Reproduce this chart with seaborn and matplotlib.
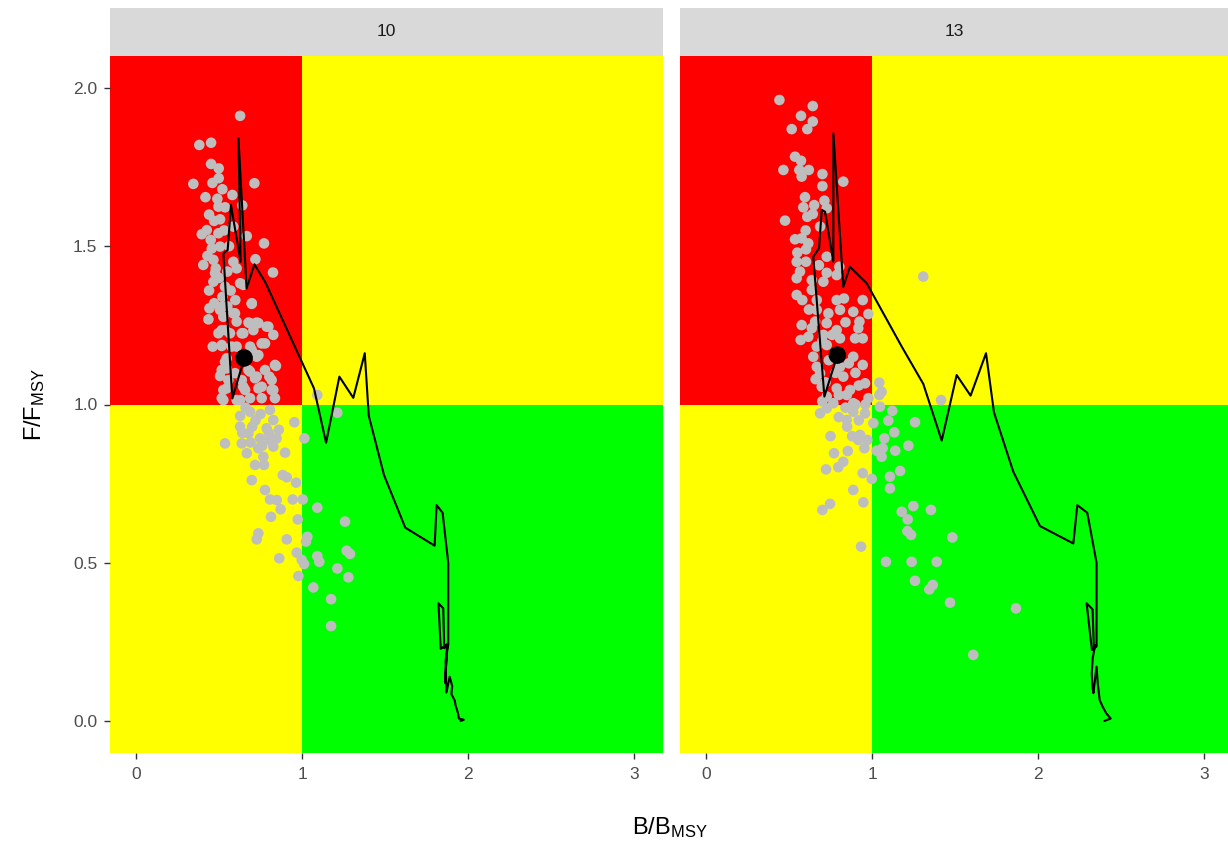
import matplotlib
matplotlib.use("Agg")
import matplotlib.pyplot as plt
from matplotlib.patches import Rectangle
import numpy as np
import pandas as pd
import seaborn as sns

# ---------------- data ----------------
facets = ["10", "13"]

# simulated points (B/BMSY, F/FMSY) panel "10"
sim10_b = [0.627,0.381,0.452,0.452,0.498,0.498,0.345,0.713,0.418,0.580,0.640,0.496,0.536,0.506,0.426,0.396,0.496,0.667,0.771,0.586,
           0.456,0.506,0.719,0.405,0.466,0.586,0.606,0.825,0.476,0.466,0.627,0.536,0.598,0.697,0.442,0.506,0.436,0.526,0.586,0.606,
           0.677,0.727,0.787,0.516,0.566,0.646,0.707,0.827,0.462,0.516,0.576,0.687,0.777,0.546,0.727,0.843,0.506,0.546,0.687,0.727,
           0.803,0.546,0.646,0.757,0.827,0.526,0.606,0.687,0.757,1.092,1.213,1.014,
           0.536,0.637,0.627,0.687,0.807,0.627,0.677,0.787,0.827,0.954,0.667,0.747,0.807,0.847,0.737,0.827,0.898,0.767,0.717,0.771,
           0.697,0.884,0.908,0.964,0.777,0.807,0.848,0.944,1.004,1.092,0.871,0.813,0.974,1.259,0.737,0.727,0.908,1.032,1.024,0.863,
           0.968,0.998,1.012,1.092,1.104,1.269,1.289,1.213,1.279,0.978,1.068,1.175,1.175,0.526,0.817,
           0.516,0.596,0.697,0.687,0.737,0.797,0.496,0.536,0.637,0.757,0.516,0.606,0.697,0.536,0.737,0.837,0.516,0.596,0.677,0.777,
           0.556,0.637,0.717,0.817,0.657,0.737,0.516,0.627,0.837,0.646,0.44,0.47,0.45,0.43,0.48,0.50,0.44,0.52,0.47,0.55,
           0.57,0.55,0.53,0.56,0.49,0.52,0.46,
           0.66,0.72,0.75,0.70,0.64,0.80,0.76,0.86,0.69]
sim10_f = [1.912,1.820,1.827,1.760,1.746,1.715,1.697,1.699,1.655,1.662,1.629,1.625,1.623,1.585,1.551,1.538,1.541,1.532,1.509,1.562,
           1.493,1.499,1.459,1.441,1.457,1.451,1.430,1.417,1.415,1.388,1.383,1.372,1.330,1.318,1.304,1.299,1.269,1.277,1.288,1.262,
           1.259,1.259,1.246,1.235,1.225,1.225,1.235,1.220,1.183,1.185,1.183,1.183,1.193,1.146,1.151,1.122,1.090,1.114,1.104,1.088,
           1.088,1.051,1.056,1.056,1.046,1.014,1.014,1.020,1.020,1.030,0.974,0.893,
           0.877,0.877,0.964,0.977,0.983,0.930,0.909,0.925,0.951,0.944,0.846,0.893,0.888,0.893,0.862,0.867,0.848,0.835,0.809,0.809,
           0.761,0.777,0.770,0.753,0.730,0.700,0.698,0.700,0.700,0.674,0.669,0.645,0.637,0.630,0.593,0.574,0.574,0.582,0.567,0.514,
           0.532,0.509,0.496,0.521,0.503,0.538,0.528,0.482,0.454,0.458,0.422,0.385,0.300,1.046,1.046,
           1.309,1.288,1.320,1.257,1.257,1.246,1.225,1.235,1.225,1.193,1.188,1.183,1.172,1.135,1.156,1.125,1.109,1.099,1.109,1.109,
           1.077,1.077,1.083,1.077,1.046,1.051,1.020,1.014,1.020,1.378,1.60,1.58,1.52,1.47,1.43,1.40,1.36,1.34,1.32,1.31,
           1.36,1.42,1.55,1.50,1.65,1.68,1.70,
           0.99,0.95,0.97,0.93,0.91,0.91,0.87,0.92,0.88]

# simulated points panel "13"
sim13_b = [0.442,0.643,0.572,0.643,0.516,0.610,0.536,0.572,0.466,0.562,0.619,0.576,0.701,0.827,0.701,0.596,0.586,0.651,0.713,0.727,
           0.476,0.610,0.643,0.687,0.536,0.576,0.616,0.602,0.727,0.546,0.602,0.566,0.727,0.803,0.546,0.637,0.707,0.787,0.637,0.546,
           0.667,0.787,0.831,0.944,1.309,0.667,0.737,0.807,0.887,0.978,0.657,0.727,0.924,0.576,0.637,0.787,0.917,0.616,0.707,0.807,
           0.898,0.944,0.570,0.667,0.727,0.646,0.887,0.667,0.807,0.944,0.687,0.827,0.958,1.044,0.697,0.787,0.867,1.058,1.044,1.416,
           0.727,0.848,0.978,0.767,0.887,
           0.687,0.727,0.848,0.887,0.958,1.008,1.048,1.122,1.098,1.259,1.134,0.928,0.917,0.972,1.074,1.219,0.954,1.028,1.064,1.140,
           0.771,0.854,1.058,0.827,0.797,0.723,0.944,0.998,1.108,1.169,0.887,1.108,0.948,0.747,0.701,1.179,1.249,1.355,1.215,1.213,
           1.235,1.484,0.934,1.084,1.239,1.390,1.259,1.366,1.345,1.470,1.867,1.610,
           0.70,0.76,0.84,0.74,0.78,0.86,0.90,0.72,0.80,0.92,0.84,0.90,0.96,0.70,0.66,0.62,0.58,0.68,0.60,0.55,
           0.85,0.80,0.92,0.88,0.75]
sim13_f = [1.962,1.943,1.912,1.894,1.870,1.870,1.783,1.770,1.741,1.741,1.741,1.720,1.728,1.704,1.690,1.655,1.623,1.630,1.644,1.620,
           1.581,1.593,1.602,1.562,1.522,1.525,1.509,1.490,1.467,1.451,1.451,1.420,1.416,1.435,1.399,1.393,1.388,1.409,1.362,1.346,
           1.330,1.330,1.335,1.330,1.404,1.299,1.288,1.299,1.293,1.286,1.262,1.257,1.262,1.251,1.241,1.235,1.241,1.214,1.220,1.209,
           1.209,1.209,1.204,1.183,1.188,1.151,1.151,1.119,1.119,1.125,1.099,1.088,1.067,1.069,1.056,1.051,1.046,1.040,1.030,1.014,
           1.025,1.030,1.020,1.004,1.004,
           0.972,0.988,0.951,0.977,0.972,0.941,0.993,0.980,0.949,0.944,0.912,0.904,0.888,0.888,0.893,0.870,0.862,0.854,0.862,0.854,
           0.846,0.853,0.835,0.819,0.802,0.795,0.783,0.765,0.772,0.790,0.730,0.735,0.691,0.686,0.667,0.661,0.679,0.667,0.637,0.600,
           0.588,0.580,0.551,0.503,0.503,0.503,0.443,0.430,0.416,0.374,0.356,0.209,
           1.20,1.22,1.26,1.14,1.10,1.13,1.10,1.07,1.03,1.06,0.99,1.00,1.00,1.01,1.08,1.30,1.33,1.44,1.55,1.48,
           0.93,0.96,0.95,0.90,0.90]

# historical trajectory (time order) panel "10"
traj10_b = [1.955,1.975,1.945,1.940,1.925,1.920,1.900,1.905,1.890,1.870,1.865,1.875,1.862,1.870,1.880,1.836,1.822,1.851,1.857,1.881,
            1.881,1.847,1.811,1.799,1.622,1.494,1.402,1.378,1.309,1.225,1.145,1.072,0.780,0.713,0.666,0.617,0.630,0.572,0.552,0.526,
            0.580,0.652]
traj10_f = [0.000,0.004,0.008,0.025,0.050,0.065,0.085,0.110,0.140,0.090,0.190,0.235,0.120,0.200,0.245,0.228,0.372,0.356,0.230,0.240,
            0.500,0.658,0.682,0.554,0.611,0.777,0.965,1.162,1.021,1.088,0.879,1.051,1.385,1.443,1.366,1.841,1.451,1.630,1.488,1.477,
            1.019,1.146]

# historical trajectory panel "13"
traj13_b = [2.400,2.438,2.412,2.390,2.372,2.360,2.353,2.334,2.328,2.324,2.330,2.345,2.325,2.293,2.329,2.337,2.353,2.353,2.297,2.237,
            2.213,2.012,1.851,1.735,1.687,1.594,1.510,1.420,1.309,1.179,0.968,0.867,0.827,0.767,0.767,0.717,0.697,0.681,0.646,0.713,
            0.791]
traj13_f = [0.000,0.008,0.024,0.045,0.066,0.120,0.172,0.088,0.110,0.151,0.200,0.240,0.224,0.372,0.353,0.230,0.235,0.500,0.658,0.682,
            0.561,0.616,0.788,0.975,1.162,1.028,1.093,0.886,1.065,1.183,1.383,1.435,1.372,1.857,1.451,1.609,1.615,1.494,1.467,1.025,
            1.156]

# current status (large black point)
current_b = [0.651, 0.791]
current_f = [1.147, 1.156]

x_ticks = [0, 1, 2, 3]
y_ticks = [0.0, 0.5, 1.0, 1.5, 2.0]
y_tick_labels = ["0.0", "0.5", "1.0", "1.5", "2.0"]

# ---------------- style ----------------
sns.set_theme(style="white")
plt.rcParams["font.family"] = ["Liberation Sans", "DejaVu Sans"]
plt.rcParams["mathtext.default"] = "regular"

W, H = 1228, 841
fig = plt.figure(figsize=(W / 100, H / 100), dpi=100)


def frac(l, t, r, b):
    return [l / W, 1 - b / H, (r - l) / W, (b - t) / H]


panels = [
    dict(box=(110, 56, 663, 753), strip=(110, 8, 663, 56), xlim=(-0.157, 3.175),
         sb=sim10_b, sf=sim10_f, tb=traj10_b, tf=traj10_f, idx=0),
    dict(box=(680, 56, 1228, 753), strip=(680, 8, 1228, 56), xlim=(-0.157, 3.145),
         sb=sim13_b, sf=sim13_f, tb=traj13_b, tf=traj13_f, idx=1),
]

for p in panels:
    ax = fig.add_axes(frac(*p["box"]))
    # Kobe quadrants
    ax.add_patch(Rectangle((-5, 1), 6, 10, facecolor="#FF0000", edgecolor="none", zorder=0))
    ax.add_patch(Rectangle((1, 1), 10, 10, facecolor="#FFFF00", edgecolor="none", zorder=0))
    ax.add_patch(Rectangle((-5, -5), 6, 6, facecolor="#FFFF00", edgecolor="none", zorder=0))
    ax.add_patch(Rectangle((1, -5), 10, 6, facecolor="#00FF00", edgecolor="none", zorder=0))

    sims = pd.DataFrame({"b": p["sb"], "f": p["sf"]})
    sns.scatterplot(data=sims, x="b", y="f", ax=ax, color="#BEBEBE", s=58,
                    edgecolor="none", linewidth=0, zorder=2)
    traj = pd.DataFrame({"b": p["tb"], "f": p["tf"]})
    sns.lineplot(data=traj, x="b", y="f", ax=ax, sort=False, estimator=None,
                 color="black", linewidth=1.5, zorder=3)
    cur = pd.DataFrame({"b": [current_b[p["idx"]]], "f": [current_f[p["idx"]]]})
    sns.scatterplot(data=cur, x="b", y="f", ax=ax, color="black", s=160,
                    edgecolor="none", linewidth=0, zorder=4)

    ax.set_xlim(*p["xlim"])
    ax.set_ylim(-0.101, 2.101)
    ax.set_xlabel("")
    ax.set_ylabel("")
    ax.set_xticks(x_ticks)
    ax.set_xticklabels([str(t) for t in x_ticks])
    ax.set_yticks(y_ticks)
    if p["idx"] == 0:
        ax.set_yticklabels(y_tick_labels)
        ax.tick_params(axis="y", left=True, length=4, width=1, color="#333333",
                       labelsize=12.5, labelcolor="#4D4D4D", pad=5)
    else:
        ax.tick_params(axis="y", left=False, labelleft=False)
    ax.tick_params(axis="x", bottom=True, length=4, width=1, color="#333333",
                   labelsize=12.5, labelcolor="#4D4D4D", pad=6)
    for s in ax.spines.values():
        s.set_visible(False)
    ax.grid(False)

    sax = fig.add_axes(frac(*p["strip"]))
    sax.set_facecolor("#D9D9D9")
    sax.set_xticks([])
    sax.set_yticks([])
    for s in sax.spines.values():
        s.set_visible(False)
    sax.text(0.5, 0.5, facets[p["idx"]], ha="center", va="center",
             fontsize=12.5, color="#1A1A1A", transform=sax.transAxes)

fig.text(670 / W, 1 - 828 / H, r"$B/B_{MSY}$", ha="center", va="center",
         fontsize=17, color="black")
fig.text(35 / W, 1 - 404 / H, r"$F/F_{MSY}$", ha="center", va="center",
         fontsize=17, color="black", rotation=90)

fig.savefig("out.png", dpi=100)
